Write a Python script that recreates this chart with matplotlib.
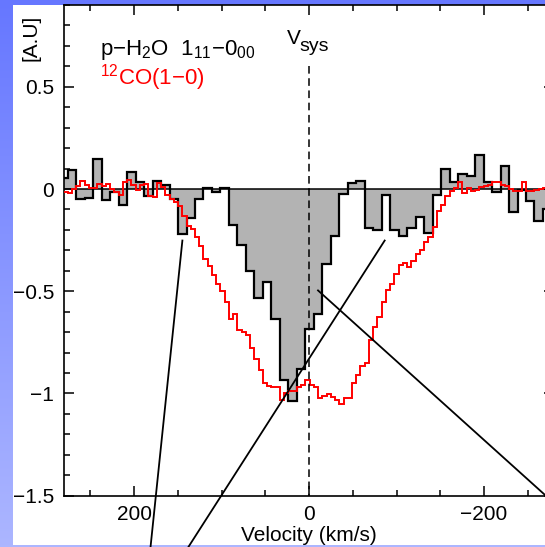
import numpy as np
import matplotlib
matplotlib.use("Agg")
import matplotlib.pyplot as plt
from matplotlib.ticker import MultipleLocator, FixedLocator, FixedFormatter

plt.rcParams['font.family'] = ['Liberation Sans', 'DejaVu Sans']
plt.rcParams['mathtext.fontset'] = 'custom'
plt.rcParams['mathtext.rm'] = 'Liberation Sans'
plt.rcParams['mathtext.it'] = 'Liberation Sans:italic'
plt.rcParams['mathtext.default'] = 'rm'

# ---------------- data ----------------
# p-H2O 1_11-0_00 spectrum (bins of 9.7 km/s), listed from high to low velocity
h2o_bin_width = 9.7
h2o_first_edge = 4.2 + 9.7 * 29
h2o_values = [0.052, 0.094, -0.049, -0.045, 0.146, -0.054, -0.016, -0.078, 0.084, 0.033,
              -0.033, 0.040, 0.020, -0.050, -0.22, -0.14, -0.05, 0.006, -0.016, 0.005,
              -0.176, -0.272, -0.40, -0.533, -0.455, -0.637, -0.935, -1.037, -0.88, -0.683,
              -0.61, -0.366, -0.231, -0.024, 0.028, 0.037, -0.19, -0.20, -0.029, -0.20,
              -0.232, -0.19, -0.138, -0.215, -0.03, 0.098, 0.036, 0.075, 0.065, 0.166,
              0.033, -0.016, 0.114, -0.11, -0.005, -0.057, -0.155, -0.10]

# 12CO(1-0) spectrum (bins of 4.85 km/s), listed from high to low velocity
co_bin_width = 4.85
co_first_edge = 4.2 + 4.85 * 57
co_values = [-0.013, -0.02, 0.0, 0.016, 0.039, 0.02, 0.003, 0.003, 0.026, 0.013,
             0.026, 0.0, -0.013, -0.03, 0.033, 0.045, 0.02, -0.003, 0.02, 0.026,
             -0.033, -0.04, 0.03, 0.01, -0.03, -0.05, -0.065, -0.085, -0.13, -0.18,
             -0.195, -0.235, -0.278, -0.34, -0.375, -0.42, -0.463, -0.50, -0.553, -0.638,
             -0.61, -0.69, -0.70, -0.715, -0.78, -0.833, -0.886, -0.951, -0.962, -0.97,
             -0.967, -1.03, -1.0, -0.99, -0.99, -0.966, -0.96, -0.935, -0.96, -0.967,
             -1.024, -1.013, -1.005, -1.016, -1.03, -1.05, -1.024, -1.02, -0.95, -0.91,
             -0.865, -0.85, -0.74, -0.675, -0.626, -0.553, -0.496, -0.463, -0.415, -0.37,
             -0.36, -0.38, -0.35, -0.32, -0.30, -0.26, -0.236, -0.185, -0.106, -0.078,
             -0.033, -0.008, 0.003, 0.033, -0.02, 0.003, -0.008, -0.003, 0.008, 0.016,
             0.02, 0.033, 0.036, 0.02, 0.013, 0.0, -0.008, -0.008, 0.033, -0.01,
             -0.008, -0.005, 0.0, 0.005, 0.0]

v_sys = 0.0
x_ticks = [200, 0, -200]
x_ticklabels = ['200', '0', '\u2212200']
y_ticks = [-1.5, -1.0, -0.5, 0.0, 0.5]
y_ticklabels = ['\u22121.5', '\u22121', '\u22120.5', '0', '0.5']

# connector lines to other panels (velocity, intensity) pairs
connector_lines = [
    ((144.7, -0.252), (182.3, -1.80)),
    ((-86.5, -0.252), (145.2, -1.80)),
    ((-10.3, -0.496), (-280.0, -1.536)),
]

# ---------------- figure ----------------
W, H = 545, 547
fig = plt.figure(figsize=(W / 100, H / 100), dpi=100)
fig.patch.set_facecolor('white')

# decorative blue frame (slide background)
img = np.ones((H, W, 3))
top_c = np.array([102, 119, 255]) / 255.0
bot_c = np.array([172, 182, 255]) / 255.0
t = np.linspace(0, 1, H)[:, None]
grad = top_c[None, :] * (1 - t) + bot_c[None, :] * t
img[:, :13, :] = grad[:, None, :]
img[:5, :, :] = top_c
img[H - 2:, :, :] = bot_c
fig.figimage(img, xo=0, yo=0, origin='upper', zorder=-5)

ax = fig.add_axes([64 / W, 51.3 / H, (554 - 64) / W, (542 - 51.3) / H])
ax.set_xlim(280, -280)
ax.set_ylim(-1.5, 0.9)

h2o_edges = h2o_first_edge - h2o_bin_width * np.arange(len(h2o_values) + 1)
co_edges = co_first_edge - co_bin_width * np.arange(len(co_values) + 1)

hv = np.array(h2o_values)[::-1]
he = h2o_edges[::-1]
cv = np.array(co_values)[::-1]
ce = co_edges[::-1]

ax.stairs(hv, he, baseline=0, fill=True, color='#b3b3b3', zorder=1)
ax.axhline(0, color='black', lw=1.1, zorder=2)
ax.stairs(hv, he, baseline=None, color='black', lw=1.6, zorder=3)
ax.stairs(cv, ce, baseline=None, color='#ff0000', lw=1.4, zorder=4)

ax.plot([v_sys, v_sys], [0.6, -1.5], color='black', lw=1.1, dashes=(5, 3), zorder=5)

for (x0, y0), (x1, y1) in connector_lines:
    ax.plot([x0, x1], [y0, y1], color='black', lw=1.3, clip_on=False, zorder=6)

ax.text(239, 0.655, r'$\mathrm{p{-}H_2O\ \ 1_{11}{-}0_{00}}$', fontsize=16,
        color='black', ha='left', va='baseline')
ax.text(239, 0.51, r'$\mathrm{^{12}CO(1{-}0)}$', fontsize=16,
        color='#ff0000', ha='left', va='baseline')
ax.text(25.5, 0.707, 'V', fontsize=15, color='black', ha='left', va='baseline')
ax.text(11.5, 0.675, 'sys', fontsize=14, color='black', ha='left', va='baseline')

ax.xaxis.set_major_locator(FixedLocator(x_ticks))
ax.xaxis.set_major_formatter(FixedFormatter(x_ticklabels))
ax.xaxis.set_minor_locator(MultipleLocator(50))
ax.yaxis.set_major_locator(FixedLocator(y_ticks))
ax.yaxis.set_major_formatter(FixedFormatter(y_ticklabels))
ax.yaxis.set_minor_locator(MultipleLocator(0.1))
ax.tick_params(which='both', direction='in', top=True, right=True, width=1.1,
               labelsize=15)
ax.tick_params(which='major', length=7.5, pad=7)
ax.tick_params(which='minor', length=4)
for s in ax.spines.values():
    s.set_linewidth(1.2)

ax.set_xlabel('Velocity (km/s)', fontsize=15, labelpad=1)
fig.text(31 / W, 1 - 38 / H, '[A.U]', rotation=90, ha='center', va='center',
         fontsize=15)

fig.savefig('out.png', dpi=100, facecolor=fig.get_facecolor())
